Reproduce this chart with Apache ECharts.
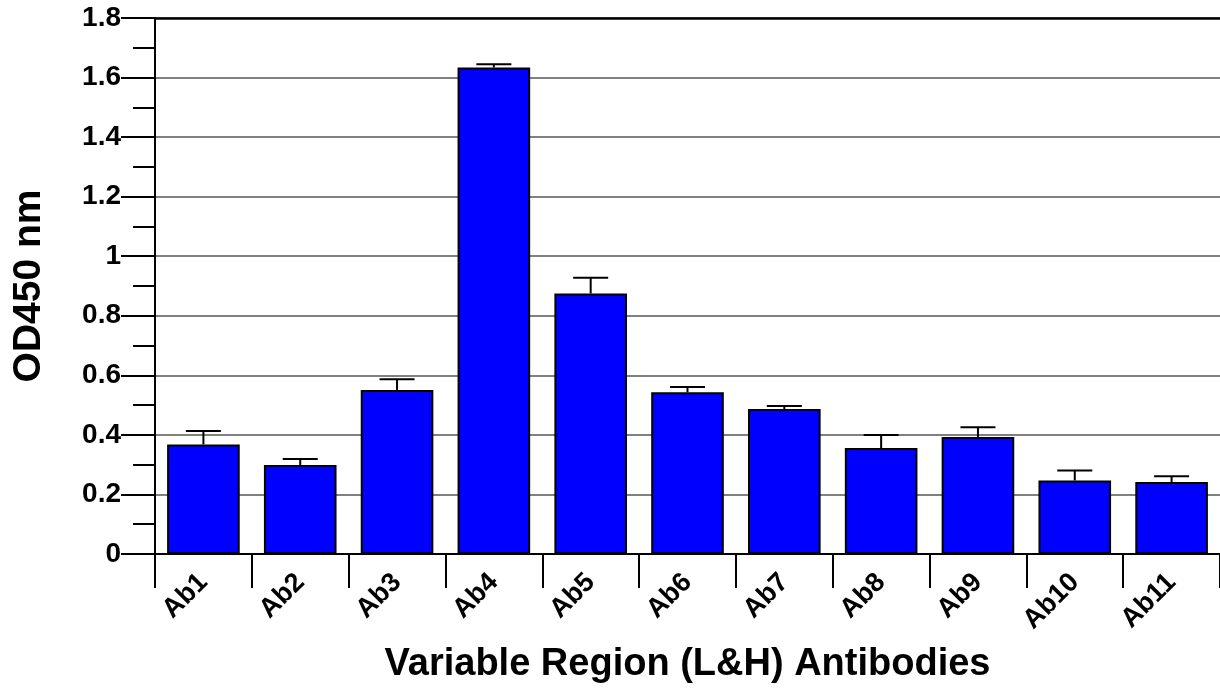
<!DOCTYPE html>
<html><head><meta charset="utf-8">
<script src="https://cdn.jsdelivr.net/npm/echarts@6/dist/echarts.min.js"></script>
<style>html,body{margin:0;padding:0;background:#fff}#c{width:1220px;height:690px}</style>
</head><body><div id="c"></div>
<script>
const categories = ['Ab1','Ab2','Ab3','Ab4','Ab5','Ab6','Ab7','Ab8','Ab9','Ab10','Ab11'];
const means = [0.368, 0.299, 0.551, 1.634, 0.875, 0.543, 0.487, 0.356, 0.393, 0.247, 0.242];
const errors = [0.045, 0.020, 0.036, 0.011, 0.053, 0.018, 0.010, 0.044, 0.033, 0.033, 0.019];
const yTicks = [0, 0.2, 0.4, 0.6, 0.8, 1, 1.2, 1.4, 1.6, 1.8];

const chart = echarts.init(document.getElementById('c'), null, {renderer:'canvas'});
const font = 'Liberation Sans, Arial, sans-serif';
chart.setOption({
  animation:false,
  grid:{left:155,right:0,top:18,bottom:136},
  xAxis:[{
    type:'category', data:categories,
    axisLine:{lineStyle:{color:'#000',width:2}},
    axisTick:{show:true,length:34,lineStyle:{color:'#000',width:2}},
    axisLabel:{rotate:45,margin:24,fontFamily:font,fontWeight:'bold',fontSize:27,color:'#000'},
    name:'Variable Region (L&H) Antibodies', nameLocation:'middle', nameGap:92,
    nameTextStyle:{fontFamily:font,fontWeight:'bold',fontSize:38,color:'#000'}
  },{
    type:'category', data:categories, position:'top',
    axisLine:{lineStyle:{color:'#000',width:2.5}}, axisTick:{show:false}, axisLabel:{show:false}
  }],
  yAxis:{
    type:'value', min:0, max:1.8, interval:0.2,
    axisLine:{show:true,lineStyle:{color:'#000',width:2}},
    axisTick:{show:true,length:34,lineStyle:{color:'#000',width:2}},
    minorTick:{show:true,splitNumber:2,length:22,lineStyle:{color:'#000',width:2}},
    splitLine:{show:true,lineStyle:{color:'#808080',width:2}},
    axisLabel:{margin:34,fontFamily:font,fontWeight:'bold',fontSize:28,color:'#000',
      formatter:v=>{const t=yTicks.find(x=>Math.abs(x-v)<1e-6);return t===undefined?'':String(t);}},
    name:'OD450 nm', nameLocation:'middle', nameGap:106, nameRotate:90,
    nameTextStyle:{fontFamily:font,fontWeight:'bold',fontSize:39,color:'#000'}
  },
  series:[{
    type:'bar', data:means, barCategoryGap:'25%',
    itemStyle:{color:'#0000ff',borderColor:'#000',borderWidth:2}
  },{
    type:'custom', z:10,
    data:means.map((m,i)=>[i,m,m+errors[i]]),
    renderItem:(params,api)=>{
      const lo=api.coord([api.value(0),api.value(1)]);
      const hi=api.coord([api.value(0),api.value(2)]);
      const hw=17.5;
      return {type:'group',children:[
        {type:'line',shape:{x1:lo[0],y1:lo[1],x2:hi[0],y2:hi[1]},style:{stroke:'#000',lineWidth:2}},
        {type:'line',shape:{x1:hi[0]-hw,y1:hi[1],x2:hi[0]+hw,y2:hi[1]},style:{stroke:'#000',lineWidth:2}}
      ]};
    }
  }]
});
</script></body></html>
